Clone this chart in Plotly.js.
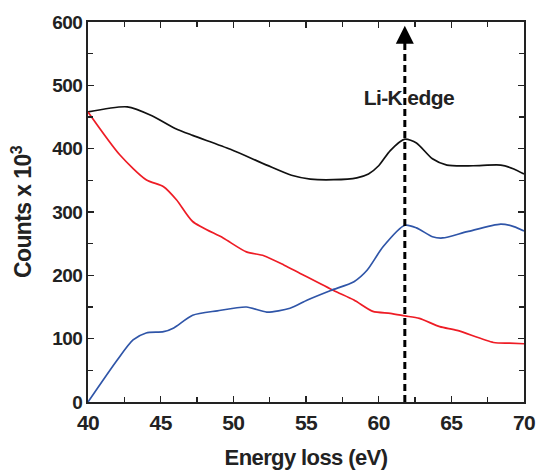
<!DOCTYPE html>
<html>
<head>
<meta charset="utf-8">
<script src="https://cdn.plot.ly/plotly-3.0.1.min.js"></script>
<style>
html,body{margin:0;padding:0;background:#fff;}
#chart{width:538px;height:470px;}
#chart svg text{letter-spacing:-0.6px;}
</style>
</head>
<body>
<div id="chart"></div>
<script>
// Data
const blackE = [40, 42.7, 44.4, 46.0, 47.2, 49.8, 52.3, 54.0, 55.3, 56.9, 58.5, 59.3, 60.0, 60.8, 61.8, 62.6, 63.7, 64.7, 66.5, 68.4, 69.3, 70];
const blackCounts = [458, 466, 452, 432, 421, 399, 374, 358, 352, 351, 354, 360, 373, 397, 415, 409, 384, 374, 373, 374, 368, 360];

const redE = [40, 42.2, 44.0, 45.2, 46.1, 47.2, 49.3, 50.9, 52.1, 53.5, 54.6, 56.9, 58.3, 59.6, 60.8, 61.8, 62.8, 64.2, 65.4, 67.9, 69.0, 70];
const redCounts = [458, 390, 351, 340, 319, 285, 259, 237, 231, 216, 203, 176, 161, 143, 140, 136, 132, 119, 113, 94, 93, 92];

const blueE = [40, 42.0, 43.1, 44.0, 45.2, 45.9, 47.2, 48.9, 50.9, 52.3, 53.9, 55.1, 56.7, 58.3, 59.2, 60.3, 61.8, 62.6, 63.7, 64.4, 66.1, 68.4, 69.3, 70];
const blueCounts = [0, 66, 98, 109, 111, 117, 137, 144, 150, 142, 148, 161, 176, 190, 208, 245, 279, 275, 261, 259, 269, 281, 277, 270];

const edgeEnergy = 61.8;
const edgeLabel = "Li-K edge";
const xTitle = "Energy loss (eV)";
const yTitle = "Counts x 10<sup>3</sup>";

const FONT = "Liberation Sans, Arial, Helvetica, sans-serif";

function line(x, y, color) {
  return {x: x, y: y, type: 'scatter', mode: 'lines',
    line: {color: color, width: 1.7, shape: 'spline', smoothing: 0.7},
    hoverinfo: 'skip', showlegend: false};
}

const traces = [
  line(blackE, blackCounts, '#111111'),
  line(redE, redCounts, '#ee1c25'),
  line(blueE, blueCounts, '#2f55a8')
];

const axisCommon = {
  showline: true, linecolor: '#222', linewidth: 2, mirror: 'ticks',
  ticks: 'inside', ticklen: 6, tickwidth: 1.5, tickcolor: '#222',
  showgrid: false, zeroline: false
};

const layout = {
  width: 538, height: 470,
  margin: {l: 88, r: 14, t: 22, b: 68},
  paper_bgcolor: '#fff', plot_bgcolor: '#fff',
  xaxis: Object.assign({}, axisCommon, {
    range: [40, 70], dtick: 5, tick0: 40,
    minor: {dtick: 2.5, ticks: 'inside', ticklen: 5, tickwidth: 1.5, tickcolor: '#222'},
    ticklabelstandoff: 1,
    tickfont: {family: FONT, size: 21, color: '#222', weight: 'bold'},
    title: {text: xTitle, standoff: 18, font: {family: FONT, size: 22, color: '#222', weight: 'bold'}}
  }),
  yaxis: Object.assign({}, axisCommon, {
    range: [0, 600], dtick: 100, tick0: 0,
    minor: {dtick: 50, ticks: 'inside', ticklen: 5, tickwidth: 1.5, tickcolor: '#222'},
    tickfont: {family: FONT, size: 19, color: '#222', weight: 'bold'},
    title: {text: yTitle, standoff: 12, font: {family: FONT, size: 23, color: '#222', weight: 'bold'}}
  }),
  shapes: [{
    type: 'line', xref: 'x', yref: 'y', x0: edgeEnergy, x1: edgeEnergy, y0: 0, y1: 580,
    line: {color: '#000', width: 3, dash: '7px,4px'}
  }],
  annotations: [
    {x: edgeEnergy, y: 594, ax: edgeEnergy, ay: 575, xref: 'x', yref: 'y', axref: 'x', ayref: 'y',
     text: '', showarrow: true, arrowhead: 2, arrowsize: 1.2, arrowwidth: 3, arrowcolor: '#000'},
    {x: 62.1, y: 481, xref: 'x', yref: 'y', text: edgeLabel, showarrow: false,
     font: {family: FONT, size: 21, color: '#222', weight: 'bold'}}
  ]
};

Plotly.newPlot('chart', traces, layout, {staticPlot: true, displayModeBar: false});
</script>
</body>
</html>
